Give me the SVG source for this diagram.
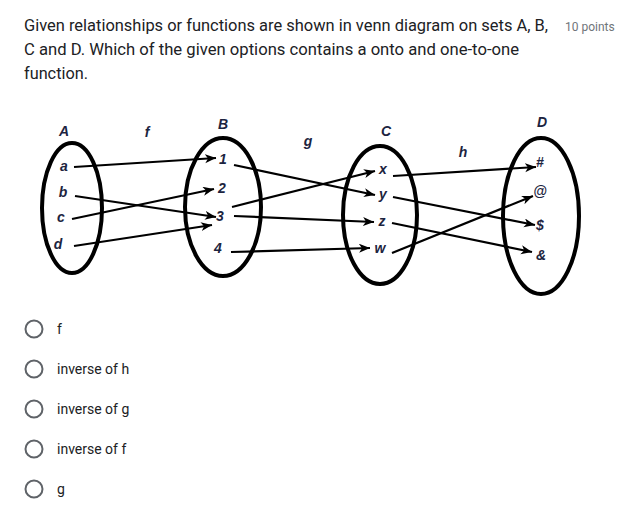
<svg xmlns="http://www.w3.org/2000/svg" width="639" height="524" viewBox="0 0 639 524">
<style>
.q{font-family:Roboto,"Liberation Sans",sans-serif;font-size:16px;fill:#202124}
.pts{font-family:Roboto,"Liberation Sans",sans-serif;font-size:12px;fill:#70757a}
.opt{font-family:Roboto,"Liberation Sans",sans-serif;font-size:14px;fill:#202124}
.radio{fill:none;stroke:#5f6368;stroke-width:2}
.set{fill:none;stroke:#000;stroke-width:4}
.lb{font-family:"Liberation Sans",Arial,sans-serif;font-weight:bold;font-style:italic;font-size:14px;fill:#1c2440;text-anchor:middle}
.ln{stroke:#000;stroke-width:2.2;fill:none;marker-end:url(#ah)}
</style>
<defs>
<marker id="ah" markerUnits="userSpaceOnUse" markerWidth="12" markerHeight="10" refX="11" refY="4.5" orient="auto">
<path d="M0,0 L11,4.5 L0,9 L3,4.5 z" fill="#000"/>
</marker>
</defs>
<rect width="639" height="524" fill="#fff"/>
<g id="question">
<text class="q" x="24" y="31" textLength="524" lengthAdjust="spacingAndGlyphs">Given relationships or functions are shown in venn diagram on sets A, B,</text>
<text class="q" x="24" y="55" textLength="495" lengthAdjust="spacingAndGlyphs">C and D. Which of the given options contains a onto and one-to-one</text>
<text class="q" x="24" y="79" textLength="64" lengthAdjust="spacingAndGlyphs">function.</text>
<text class="pts" x="565" y="31">10 points</text>
</g>
<g id="setA">
<ellipse class="set" cx="72" cy="208" rx="30" ry="65"/>
<text class="lb" x="64" y="136">A</text>
<text class="lb" x="64" y="171">a</text>
<text class="lb" x="63" y="197">b</text>
<text class="lb" x="61" y="222">c</text>
<text class="lb" x="58" y="249">d</text>
</g>
<g id="setB">
<ellipse class="set" cx="223" cy="207" rx="38" ry="69"/>
<text class="lb" x="223" y="129">B</text>
<text class="lb" x="223" y="164">1</text>
<text class="lb" x="222" y="193">2</text>
<text class="lb" x="220" y="221">3</text>
<text class="lb" x="218" y="253">4</text>
</g>
<g id="setC">
<ellipse class="set" cx="380" cy="215" rx="37" ry="69"/>
<text class="lb" x="386" y="136">C</text>
<text class="lb" x="383" y="174">x</text>
<text class="lb" x="383" y="199">y</text>
<text class="lb" x="382" y="226">z</text>
<text class="lb" x="380" y="253">w</text>
</g>
<g id="setD">
<ellipse class="set" cx="541" cy="216" rx="38" ry="78"/>
<text class="lb" x="542" y="127">D</text>
<text class="lb" x="540" y="167">#</text>
<text class="lb" x="540" y="196">@</text>
<text class="lb" x="540" y="230">$</text>
<text class="lb" x="541" y="260">&amp;</text>
</g>
<g id="funcLabels">
<text class="lb" x="147" y="137">f</text>
<text class="lb" x="308" y="146">g</text>
<text class="lb" x="463" y="157">h</text>
</g>
<g id="connectors">
<line class="ln" x1="74" y1="167" x2="216" y2="158"/>
<line class="ln" x1="75" y1="196" x2="216" y2="217"/>
<line class="ln" x1="72" y1="219" x2="214" y2="189"/>
<line class="ln" x1="74" y1="246" x2="212" y2="225"/>
<line class="ln" x1="234" y1="165" x2="375" y2="195"/>
<line class="ln" x1="232" y1="207" x2="375" y2="171"/>
<line class="ln" x1="234" y1="216" x2="374" y2="222"/>
<line class="ln" x1="231" y1="252" x2="370" y2="248"/>
<line class="ln" x1="393" y1="176" x2="536" y2="167"/>
<line class="ln" x1="393" y1="197" x2="535" y2="225"/>
<line class="ln" x1="392" y1="223" x2="532" y2="252"/>
<line class="ln" x1="392" y1="253" x2="533" y2="196"/>
</g>
<g id="options">
<circle class="radio" cx="34" cy="329" r="8.5"/>
<text class="opt" x="57" y="334">f</text>
<circle class="radio" cx="34" cy="369" r="8.5"/>
<text class="opt" x="57" y="374">inverse of h</text>
<circle class="radio" cx="34" cy="409" r="8.5"/>
<text class="opt" x="57" y="414">inverse of g</text>
<circle class="radio" cx="34" cy="449" r="8.5"/>
<text class="opt" x="57" y="454">inverse of f</text>
<circle class="radio" cx="34" cy="489" r="8.5"/>
<text class="opt" x="57" y="494">g</text>
</g>
</svg>
